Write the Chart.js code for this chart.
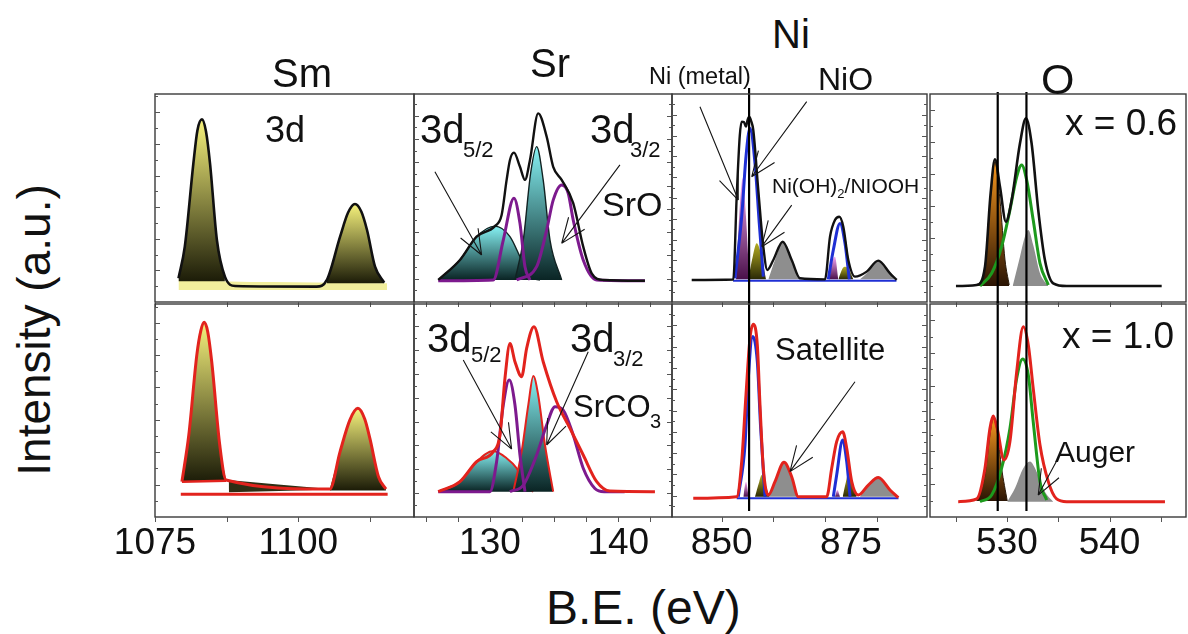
<!DOCTYPE html>
<html lang="en">
<head>
<meta charset="UTF-8">
<title>XPS Sm 3d / Sr 3d / Ni 2p / O 1s</title>
<script src="https://cdn.jsdelivr.net/npm/chart.js@4"></script>
<style>
  body{margin:0;width:1188px;height:634px;background:#fff;position:relative;overflow:hidden;font-family:'Liberation Sans',Arial,sans-serif;color:#111}
  canvas{position:absolute;z-index:1}
  .t{position:absolute;white-space:nowrap;line-height:1;z-index:2}
  .t sub{font-size:.62em;vertical-align:-.35em;line-height:0}
</style>
</head>
<body>
<!-- column titles -->
<div class="t" style="left:272px;top:53px;font-size:40px">Sm</div>
<div class="t" style="left:530px;top:43px;font-size:40px">Sr</div>
<div class="t" style="left:772px;top:14px;font-size:40px">Ni</div>
<div class="t" style="left:1041px;top:58px;font-size:43px">O</div>
<div class="t" style="left:649px;top:65px;font-size:23.5px">Ni (metal)</div>
<div class="t" style="left:818px;top:63px;font-size:32px">NiO</div>
<!-- panel labels -->
<div class="t" style="left:265px;top:112px;font-size:36px">3d</div>
<div class="t" style="left:420px;top:109px;font-size:40px">3d</div>
<div class="t" style="left:463px;top:139px;font-size:22px">5/2</div>
<div class="t" style="left:590px;top:109px;font-size:40px">3d</div>
<div class="t" style="left:630px;top:139px;font-size:22px">3/2</div>
<div class="t" style="left:602px;top:187px;font-size:34px">SrO</div>
<div class="t" style="left:427px;top:318px;font-size:40px">3d</div>
<div class="t" style="left:471px;top:344px;font-size:22px">5/2</div>
<div class="t" style="left:570px;top:318px;font-size:40px">3d</div>
<div class="t" style="left:613px;top:348px;font-size:22px">3/2</div>
<div class="t" style="left:573px;top:391px;font-size:31px">SrCO</div>
<div class="t" style="left:650px;top:411px;font-size:20px">3</div>
<div class="t" style="left:772px;top:175px;font-size:21px">Ni(OH)<sub>2</sub>/NIOOH</div>
<div class="t" style="left:775px;top:334px;font-size:31px">Satellite</div>
<div class="t" style="left:1065px;top:104px;font-size:37px">x = 0.6</div>
<div class="t" style="left:1062px;top:317px;font-size:37px">x = 1.0</div>
<div class="t" style="left:1055px;top:437px;font-size:30px">Auger</div>
<!-- axis titles -->
<div class="t" style="left:546px;top:584px;font-size:48px">B.E. (eV)</div>
<div class="t" style="left:34px;top:330px;font-size:46px;transform:translate(-50%,-50%) rotate(-90deg)">Intensity (a.u.)</div>

<script>
// ---- tick labels ----
const smTicks = [1075, 1100];
const srTicks = [130, 140];
const niTicks = [850, 875];
const oTicks = [530, 540];

// ---- Sm 3d ----
const smTopEnv = [[1079.1,11.4],[1080.2,26.6],[1081.7,66.7],[1082.4,82.5],[1083.2,87.8],[1083.9,82],[1084.6,66.7],[1085.8,29.8],[1087.2,12.2],[1089.0,7.7],[1103.2,7.4],[1105.0,10.6],[1107.3,31.4],[1108.7,43.0],[1109.9,47.1],[1111.0,43.5],[1112.0,34.6],[1113.4,17.0],[1115.0,9.3]];
const smTopP1 = [[1079.1,11.4],[1080.2,26.6],[1081.7,66.7],[1082.4,82.5],[1083.2,87.8],[1083.9,82],[1084.6,66.7],[1085.8,29.8],[1087.2,12.2]];
const smTopP2 = [[1105.0,10.6],[1107.3,31.4],[1108.7,43.0],[1109.9,47.1],[1111.0,43.5],[1112.0,34.6],[1113.4,17.0],[1115.0,9.3]];
const smTopBase = [[1079.1,11.0],[1088.0,9.8],[1103.0,9.4],[1115.5,9.0]];
const smBotEnv = [[1079.7,16.6],[1080.9,38.5],[1082.3,76.1],[1083.0,87.5],[1083.6,91.4],[1084.2,87.0],[1084.9,72.9],[1086.3,33.8],[1087.4,17.4],[1105.5,13.1],[1107.3,30.7],[1109.0,45.5],[1110.4,51.0],[1111.6,46.0],[1112.5,36.9],[1114.0,18.9],[1115.3,13.1]];
const smBotP1 = [[1079.7,16.6],[1080.9,38.5],[1082.3,76.1],[1083.0,87.5],[1083.6,91.4],[1084.2,87.0],[1084.9,72.9],[1086.3,33.8],[1087.4,17.4]];
const smBotP2 = [[1105.5,13.1],[1107.3,30.7],[1109.0,45.5],[1110.4,51.0],[1111.6,46.0],[1112.5,36.9],[1114.0,18.9],[1115.3,13.1]];
const smBotWedge = [[1087.4,17.4],[1096.5,15.2],[1105.5,13.1]];
const smBotWedgeLow = [[1087.9,11.6],[1105.5,12.9]];
const smBotEdge = [[1079.7,16.6],[1087.4,17.0]];
const smBotBase = [[1079.5,10.7],[1115.6,10.7]];

// ---- Sr 3d ----
const srTopEnv = [[125.97,10.6],[127.66,20.2],[128.96,31.4],[130.39,36.5],[130.91,41.8],[131.3,58.7],[131.56,68.3],[131.87,71.8],[132.34,65.0],[132.73,58.7],[133.12,68.3],[133.76,90.7],[134.42,79.5],[134.93,65.0],[135.59,58.7],[136.49,47.5],[137.27,26.6],[137.93,13.8],[138.83,10.6],[142.08,10.2]];
const srTopCy1 = [[125.97,10.6],[127.66,20.2],[128.96,31.4],[130.39,36.5],[131.56,31.4],[132.34,21.8],[133.12,12.2],[133.9,10.6]];
const srTopCy2 = [[131.95,10.6],[132.6,29.8],[133.17,61.9],[133.64,74.7],[134.15,58.7],[134.68,29.8],[135.59,10.6]];
const srTopPu1 = [[125.97,10.2],[130.26,10.6],[131.04,29.8],[131.87,49.9],[132.34,37.8],[132.73,17.0],[133.12,10.6]];
const srTopPu2 = [[132.08,10.6],[133.64,17.0],[134.42,34.6],[134.93,49.0],[135.59,56.3],[136.1,52.3],[136.49,39.4],[137.27,20.2],[138.32,10.6],[142.08,10.2]];
const srBotEnv = [[125.97,11.9],[127.66,16.6],[128.96,26.0],[130.26,30.7],[130.78,38.5],[131.17,65.1],[131.56,81.5],[131.95,72.9],[132.47,65.9],[132.86,79.2],[133.43,89.3],[134.15,72.9],[135.2,54.1],[136.24,41.6],[137.27,29.1],[138.32,16.6],[139.35,12.2],[142.86,11.9]];
const srBotCy1 = [[125.97,11.9],[127.66,16.6],[128.96,26.0],[130.26,31.0],[131.3,27.6],[132.08,22.9],[132.73,15.0],[133.38,11.9]];
const srBotCy2 = [[131.82,11.9],[132.47,30.7],[132.99,52.6],[133.38,66.2],[133.76,57.3],[134.29,33.8],[134.93,11.9]];
const srBotPu1 = [[125.97,11.9],[130.0,11.9],[130.52,26.0],[131.04,52.6],[131.5,64.3],[131.95,52.6],[132.34,29.1],[132.73,11.9]];
const srBotPu2 = [[131.56,11.9],[132.6,15.0],[133.64,29.1],[134.42,43.2],[135.07,51.8],[135.71,50.2],[136.49,38.5],[137.27,22.9],[138.18,13.4],[138.9,11.9],[140.5,11.9]];

// ---- Ni 2p ----
const niTopEnv = [[844.2,10.6],[852.24,10.8],[852.9,50.6],[853.5,80.0],[853.87,86.7],[854.3,86.5],[854.7,84.3],[855.0,87.5],[855.34,89.1],[855.7,87.0],[856.11,82.7],[857.08,53.8],[858.05,26.6],[858.82,15.4],[859.98,20.2],[861.8,29.0],[863.54,20.2],[865.15,11.4],[869.98,10.9],[870.95,31.4],[871.91,39.4],[872.75,41.0],[873.52,36.2],[874.49,20.2],[875.78,12.2],[878.05,14.6],[880.29,19.9],[882.55,13.8],[883.85,10.6]];
const niTopBlue1 = [[852.57,11.4],[853.87,41.0],[854.7,69.9],[855.47,83.5],[856.44,66.7],[857.27,37.8],[858.05,12.2]];
const niTopBlue2 = [[870.62,10.9],[871.59,25.0],[872.88,37.8],[873.85,28.2],[874.68,10.9]];
const niTopBlueBase = [[852.2,10.2],[883.8,10.2]];
const niTopPink1 = [[852.77,10.9],[853.54,47.5],[854.06,59.5],[854.7,41.0],[855.34,10.9]];
const niTopPink2 = [[870.8,10.9],[871.47,20.2],[871.91,21.8],[872.56,10.9]];
const niTopOl1 = [[855.15,10.9],[856.0,21.8],[856.77,28.2],[857.74,21.8],[858.57,10.9]];
const niTopOl2 = [[872.56,10.9],[873.4,16.2],[873.9,17.0],[874.68,15.4],[875.46,10.9]];
const niTopGr1 = [[859.02,10.9],[860.31,20.2],[861.8,29.0],[863.54,20.2],[865.15,10.9]];
const niTopGr2 = [[876.75,10.9],[878.36,14.6],[880.29,19.9],[882.23,15.4],[883.85,10.9]];
const niBotEnv = [[844.5,8.8],[852.9,9.5],[853.87,26.0],[854.7,57.3],[855.47,83.9],[856.11,90.5],[856.89,80.8],[857.41,52.6],[858.05,22.9],[859.02,10.3],[860.31,16.6],[862.05,25.7],[863.54,18.9],[864.82,9.5],[870.31,9.5],[871.28,22.9],[872.24,35.4],[873.4,40.0],[874.18,32.3],[875.15,16.6],[876.43,10.3],[878.36,15.0],[880.29,18.5],[882.55,12.7],[884.16,9.1]];
const niBotBlue1 = [[853.21,9.5],[854.51,33.8],[855.15,65.1],[856.0,84.7],[856.89,72.9],[857.54,41.6],[858.38,9.5]];
const niBotBlue2 = [[871.59,9.5],[872.24,19.7],[873.4,36.2],[874.18,26.0],[874.82,9.5]];
const niBotBlueBase = [[852.9,8.8],[884.2,8.8]];
const niBotPink1 = [[854.18,9.5],[854.7,16.6],[855.22,9.5]];
const niBotPink2 = [[871.91,9.5],[872.37,12.7],[872.88,9.5]];
const niBotOl1 = [[856.44,9.5],[857.27,16.6],[857.74,19.7],[858.38,15.8],[859.21,9.5]];
const niBotOl2 = [[873.4,9.5],[874.04,16.6],[874.49,20.5],[875.15,16.6],[876.11,9.5]];
const niBotGr1 = [[859.02,9.5],[860.31,16.6],[862.05,25.7],[863.54,18.9],[864.82,9.5]];
const niBotGr2 = [[876.75,9.5],[878.36,15.0],[880.29,18.5],[882.55,12.7],[884.16,9.1]];

// ---- O 1s ----
const oTopEnv = [[525.03,7.7],[527.05,8.2],[527.86,17.0],[528.41,52.3],[528.83,68.6],[529.32,55.4],[529.9,38.6],[530.46,49.0],[531.27,76.3],[531.85,88.3],[532.4,76.3],[533.05,44.2],[533.7,20.2],[534.51,9.0],[535.82,7.7],[545.08,7.7]];
const oTopOr = [[527.2,7.7],[527.86,17.0],[528.34,47.5],[528.83,67.5],[529.32,49.0],[529.81,20.2],[530.22,8.2]];
const oTopGreen = [[527.37,7.7],[528.51,13.8],[529.48,26.6],[530.29,44.2],[530.95,60.2],[531.43,65.9],[531.92,58.7],[532.56,39.4],[533.22,18.6],[534.03,8.2]];
const oTopGray = [[530.56,7.7],[531.27,21.8],[531.75,31.4],[532.08,34.6],[532.56,27.4],[533.22,13.8],[534.03,7.7]];
const oBotEnv = [[525.25,7.2],[527.05,8.5],[527.86,22.9],[528.34,41.6],[528.66,47.4],[529.05,41.6],[529.71,26.8],[530.29,35.4],[530.95,68.2],[531.59,89.3],[532.08,80.8],[532.56,60.4],[533.22,33.8],[534.03,16.6],[534.84,8.5],[535.82,7.2],[545.4,7.2]];
const oBotOr = [[527.05,7.5],[527.86,19.7],[528.34,38.5],[528.66,46.3],[529.05,40.0],[529.48,22.9],[530.03,7.5]];
const oBotGreen = [[527.37,7.2],[528.51,10.3],[529.48,22.9],[530.29,41.6],[530.95,65.1],[531.53,74.2],[532.08,66.7],[532.56,44.7],[533.22,16.6],[533.87,8.0]];
const oBotGray = [[530.03,7.2],[530.78,13.5],[531.59,22.9],[532.24,26.0],[532.89,21.3],[533.7,11.9],[534.51,7.2]];

// reference lines (eV) and arrows ([from], [tip]) in data units
const niLines = [855.3];
const oLines = [529.1, 531.9];
const srTopArrows = [[[125.71,62.6],[129.35,22.6]], [[140.13,65.9],[135.59,28.2]]];
const srBotArrows = [[[127.92,73.7],[131.69,31.9]], [[137.66,77.6],[134.42,33.8]]];
const niTopArrows = [[[845.8,93.9],[853.21,49.0]], [[866.44,96.3],[855.8,60.2]], [[863.54,46.6],[857.74,26.6]]];
const niBotArrows = [[[875.78,63.5],[863.21,21.3]]];
const oBotArrows = [[[534.84,26.3],[533.05,10.3]]];

// ---- styles ----
const RED = '#e2231d', BLK = '#111', PUR = '#7d1a8e', BLUE = '#1f2fd4', GREEN = '#1d9a1d', GRAY = '#8e8e8e';
const YEL = ['#f6f27c', '#1c1c08'], CYAN = ['#86f2f4', '#0a2424'], PINK = ['#f4a8f4', '#4a104a'];
const OLIVE = ['#b4ac22', '#2a2806'], ORANGE = ['#f5961e', '#2a1404'];

const xy = pts => pts.map(([x, y]) => ({x, y}));
const common = {pointRadius: 0, pointHoverRadius: 0, cubicInterpolationMode: 'monotone'};

function grad(c) {
  return ctx => {
    const ch = ctx.chart;
    if (!ch.chartArea) return c[0];
    const ds = ch.data.datasets[ctx.datasetIndex];
    const sy = ch.scales.y;
    const top = Math.max(...ds.data.map(p => p.y));
    const g = ch.ctx.createLinearGradient(0, sy.getPixelForValue(top), 0, sy.getPixelForValue(ds.fill.value));
    g.addColorStop(0, c[0]);
    g.addColorStop(1, c[1]);
    return g;
  };
}
const curve = (pts, color, w) => ({...common, data: xy(pts), borderColor: color, borderWidth: w, fill: false});
const peak = (pts, c, b, line, w) => ({...common, data: xy(pts), fill: {value: b}, backgroundColor: grad(c),
  borderColor: line || 'rgba(0,0,0,0)', borderWidth: w || 0});
const area = (pts, color, b) => ({...common, data: xy(pts), fill: b, backgroundColor: color,
  borderColor: 'rgba(0,0,0,0)', borderWidth: 0});

// panel boxes in page pixels: [left, top, right, bottom]
const panels = [
  {row: 1, box: [155, 94, 414, 302], x: [1075, 1120.2], step: 12.5, marks: 12.5, labels: smTicks, yStep: 7.6,
   sets: [curve(smTopEnv, BLK, 2.6), peak(smTopP1, YEL, 10), peak(smTopP2, YEL, 9), area(smTopBase, '#f1ee9c', {value: 5.8})]},
  {row: 1, box: [414, 94, 672, 302], x: [124.08, 144.19], step: 2.5, marks: 2.5, labels: srTicks, yStep: 5.6, rt: true,
   arrows: srTopArrows,
   sets: [curve(srTopEnv, BLK, 2.4), curve(srTopPu1, PUR, 3), curve(srTopPu2, PUR, 3),
          peak(srTopCy2, CYAN, 10.6, '#122', 1.4), peak(srTopCy1, CYAN, 10.6, '#122', 1.4)]},
  {row: 1, box: [672, 94, 927, 302], x: [840.39, 889.71], step: 5, marks: 10, labels: niTicks, yStep: 5, rt: true,
   vlines: niLines, vTop: 6, arrows: niTopArrows,
   sets: [curve(niTopEnv, BLK, 2.4), curve(niTopBlue1, BLUE, 3), curve(niTopBlue2, BLUE, 3), curve(niTopBlueBase, BLUE, 2),
          peak(niTopOl1, OLIVE, 10.9), peak(niTopOl2, OLIVE, 10.9), peak(niTopPink1, PINK, 10.9), peak(niTopPink2, PINK, 10.9),
          area(niTopGr1, GRAY, {value: 10.9}), area(niTopGr2, GRAY, {value: 10.9})]},
  {row: 1, box: [930, 94, 1186, 302], x: [522.5, 547.45], step: 5, marks: 5, labels: oTicks, yStep: 7.7,
   vlines: oLines, vTop: 2,
   sets: [curve(oTopEnv, BLK, 2.6), curve(oTopGreen, GREEN, 3), peak(oTopOr, ORANGE, 7.7, '#2a1a0a', 1), area(oTopGray, GRAY, {value: 7.7})]},

  {row: 2, box: [155, 304, 414, 517], x: [1075, 1120.2], step: 12.5, marks: 12.5, labels: smTicks, yStep: 7.6,
   sets: [curve(smBotEnv, RED, 3), curve(smBotEdge, RED, 2.5), curve(smBotBase, RED, 3),
          peak(smBotP1, YEL, 16.6), peak(smBotP2, YEL, 12.5),
          area(smBotWedge, '#2e2e14', '+1'), curve(smBotWedgeLow, 'rgba(0,0,0,0)', 0)]},
  {row: 2, box: [414, 304, 672, 517], x: [124.08, 144.19], step: 2.5, marks: 2.5, labels: srTicks, yStep: 5.6, rt: true,
   arrows: srBotArrows,
   sets: [curve(srBotEnv, RED, 3), curve(srBotPu1, PUR, 3), curve(srBotPu2, PUR, 3),
          peak(srBotCy2, CYAN, 11.9, RED, 2), peak(srBotCy1, CYAN, 11.9, RED, 2)]},
  {row: 2, box: [672, 304, 927, 517], x: [840.39, 889.71], step: 5, marks: 10, labels: niTicks, yStep: 5, rt: true,
   vlines: niLines, arrows: niBotArrows,
   sets: [curve(niBotEnv, RED, 3), curve(niBotBlue1, BLUE, 3), curve(niBotBlue2, BLUE, 3), curve(niBotBlueBase, BLUE, 2),
          peak(niBotOl1, OLIVE, 9.5), peak(niBotOl2, OLIVE, 9.5), peak(niBotPink1, PINK, 9.5), peak(niBotPink2, PINK, 9.5),
          area(niBotGr1, GRAY, {value: 9.5}), area(niBotGr2, GRAY, {value: 9.5})]},
  {row: 2, box: [930, 304, 1186, 517], x: [522.5, 547.45], step: 5, marks: 5, labels: oTicks, yStep: 7.7,
   vlines: oLines, arrows: oBotArrows,
   sets: [curve(oBotEnv, RED, 3), curve(oBotGreen, GREEN, 3), peak(oBotOr, ORANGE, 7.5, '#2a1a0a', 1), area(oBotGray, GRAY, {value: 7.2})]}
];

// frame, tick marks, reference lines and arrows
const deco = {
  id: 'deco',
  afterDatasetsDraw(chart, args, o) {
    const {ctx, chartArea: a} = chart;
    const sx = chart.scales.x, sy = chart.scales.y;
    ctx.save();
    ctx.lineCap = 'butt';
    // vertical reference lines
    ctx.strokeStyle = '#000';
    ctx.lineWidth = 2.2;
    (o.vlines || []).forEach(v => {
      const px = sx.getPixelForValue(v);
      ctx.beginPath();
      if (o.row === 1) { ctx.moveTo(px, a.top - o.vTop); ctx.lineTo(px, a.bottom + 3); }
      else { ctx.moveTo(px, a.top - 3); ctx.lineTo(px, a.bottom - 6); }
      ctx.stroke();
    });
    // arrows
    ctx.strokeStyle = '#151515';
    ctx.lineWidth = 1.1;
    (o.arrows || []).forEach(([f, t]) => {
      const x1 = sx.getPixelForValue(f[0]), y1 = sy.getPixelForValue(f[1]);
      const x2 = sx.getPixelForValue(t[0]), y2 = sy.getPixelForValue(t[1]);
      const ang = Math.atan2(y1 - y2, x1 - x2);
      ctx.beginPath();
      ctx.moveTo(x1, y1); ctx.lineTo(x2, y2);
      [-0.38, 0.38].forEach(d => {
        ctx.moveTo(x2, y2);
        ctx.lineTo(x2 + 27 * Math.cos(ang + d), y2 + 27 * Math.sin(ang + d));
      });
      ctx.stroke();
    });
    // frame
    ctx.strokeStyle = '#3a3a3a';
    ctx.lineWidth = 1.4;
    ctx.strokeRect(a.left, a.top, a.width, a.height);
    // tick marks
    ctx.lineWidth = 1;
    ctx.strokeStyle = '#555';
    ctx.beginPath();
    for (let v = Math.ceil(sx.min / o.marks - 1e-9) * o.marks; v <= sx.max + 1e-9; v += o.marks) {
      const px = Math.round(sx.getPixelForValue(v)) + 0.5;
      ctx.moveTo(px, a.bottom); ctx.lineTo(px, a.bottom + 5);
    }
    let k = 0;
    for (let v = o.yStep; v < 100; v += o.yStep, k++) {
      const py = Math.round(sy.getPixelForValue(v)) + 0.5;
      const len = k % 2 ? 5 : 3;
      ctx.moveTo(a.left, py); ctx.lineTo(a.left + len, py);
      if (o.rt) { ctx.moveTo(a.right, py); ctx.lineTo(a.right - len, py); }
    }
    ctx.stroke();
    ctx.restore();
  }
};

const PAD = {1: {l: 3, r: 3, t: 10, b: 8}, 2: {l: 50, r: 50, t: 4, b: 0}};
const AXIS_H = 52;

panels.forEach(p => {
  const [L, T, R, B] = p.box;
  const pd = PAD[p.row];
  const bottomRow = p.row === 2;
  const cv = document.createElement('canvas');
  cv.width = R - L + pd.l + pd.r;
  cv.height = B - T + pd.t + pd.b + (bottomRow ? AXIS_H : 0);
  cv.style.left = (L - pd.l) + 'px';
  cv.style.top = (T - pd.t) + 'px';
  document.body.appendChild(cv);
  const xScale = {
    type: 'linear', min: p.x[0], max: p.x[1], display: bottomRow,
    grid: {display: false}, border: {display: false},
    ticks: {
      stepSize: p.step, autoSkip: false, maxRotation: 0, padding: -3, color: '#111',
      font: {family: 'Liberation Sans', size: 37},
      callback: v => p.labels.some(l => Math.abs(l - v) < 1e-6) ? String(v) : ''
    }
  };
  if (bottomRow) xScale.afterFit = s => { s.height = AXIS_H; };
  new Chart(cv, {
    type: 'line',
    data: {datasets: p.sets},
    options: {
      responsive: false,
      animation: false,
      devicePixelRatio: 1,
      events: [],
      layout: {padding: {left: pd.l, right: pd.r, top: pd.t, bottom: pd.b}},
      plugins: {
        legend: {display: false},
        tooltip: {enabled: false},
        deco: {row: p.row, vlines: p.vlines, vTop: p.vTop || 0, arrows: p.arrows, marks: p.marks, yStep: p.yStep, rt: p.rt}
      },
      scales: {x: xScale, y: {type: 'linear', min: 0, max: 100, display: false}}
    },
    plugins: [deco]
  });
});
</script>
</body>
</html>
